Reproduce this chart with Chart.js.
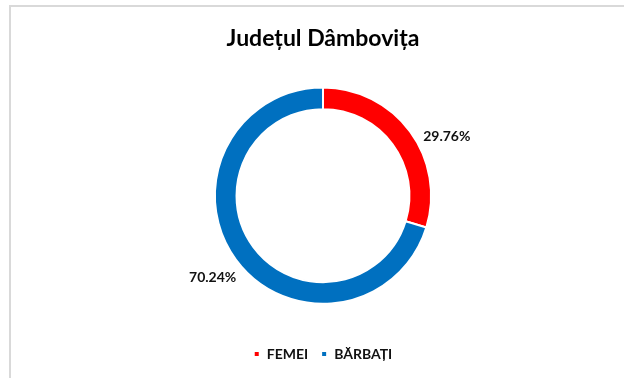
<!DOCTYPE html>
<html>
<head>
<meta charset="utf-8">
<script src="https://cdn.jsdelivr.net/npm/chart.js@4"></script>
<style>
  html, body { margin: 0; padding: 0; background: #fff; overflow: hidden; }
  #box {
    position: absolute; left: 9px; top: 5px;
    width: 628px; height: 390px;
    border-left: 2px solid #d9d9d9; border-top: 2px solid #d9d9d9;
  }
  #wrap { position: absolute; left: 0; top: 0; width: 624px; height: 372px; }
</style>
</head>
<body>
<div id="box"><div id="wrap"><canvas id="myChart"></canvas></div></div>
<script>
const categorii = ['FEMEI', 'BĂRBAȚI'];
const procente = [29.76, 70.24];
const culori = ['#ff0000', '#0070c0'];

const ctx = document.getElementById('myChart');
const font = "Lato, 'Open Sans', sans-serif";

// etichetele cu procente, centrate pe directia feliei, in afara inelului
const etichete = {
    id: 'etichete',
    afterDatasetsDraw(chart, args, opts) {
        const c = chart.ctx;
        const meta = chart.getDatasetMeta(0);
        c.save();
        c.font = 'bold 14px ' + font;
        c.fillStyle = '#111';
        c.textAlign = 'center';
        c.textBaseline = 'middle';
        meta.data.forEach((arc, i) => {
            const p = arc.getProps(['x', 'y', 'startAngle', 'endAngle', 'outerRadius']);
            const mid = (p.startAngle + p.endAngle) / 2 + (opts.rotire[i] || 0) * Math.PI / 180;
            const r = p.outerRadius + opts.distanta;
            c.fillText(procente[i].toFixed(2) + '%', p.x + Math.cos(mid) * r, p.y + Math.sin(mid) * r);
        });
        c.restore();
    }
};

let chart = new Chart(ctx, {
    type: 'doughnut',
    data: {
        labels: categorii,
        datasets: [{
            data: procente,
            backgroundColor: culori,
            borderColor: '#ffffff',
            borderWidth: 2,
            hoverOffset: 0
        }]
    },
    options: {
        responsive: true,
        maintainAspectRatio: false,
        animation: false,
        cutout: '80%',
        layout: { padding: { top: 0, bottom: 8 } },
        plugins: {
            title: {
                display: true,
                text: 'Județul Dâmbovița',
                color: '#000',
                font: { family: font, size: 23, weight: 'bold' },
                padding: { top: 18, bottom: 34 }
            },
            legend: {
                position: 'bottom',
                // titlu gol, doar ca spatiu intre inel si legenda
                title: { display: true, text: '', font: { size: 1 }, padding: { top: 28, bottom: 0 } },
                labels: {
                    color: '#111',
                    font: { family: font, size: 14, weight: 'bold' },
                    boxWidth: 6,
                    boxHeight: 6,
                    padding: 13
                }
            },
            tooltip: { enabled: false },
            etichete: { distanta: 29, rotire: [11, 0] }
        }
    },
    plugins: [etichete]
});
</script>
</body>
</html>
